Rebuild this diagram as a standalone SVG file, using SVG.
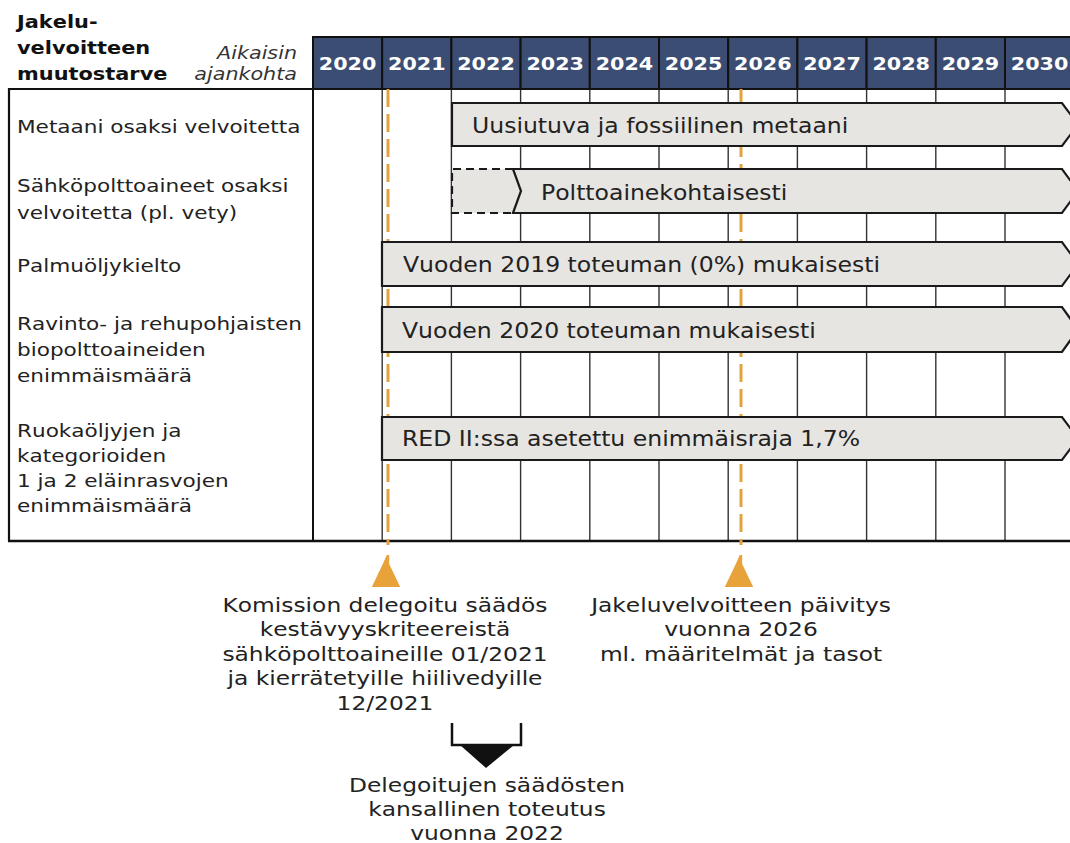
<svg xmlns="http://www.w3.org/2000/svg" width="1070" height="843" viewBox="0 0 1070 843">
<style>
  text { font-family: "DejaVu Sans", Verdana, sans-serif; fill: #222; font-kerning: none; }
  .title { font-weight: bold; font-size: 18.5px; fill: #111; }
  .ital { font-style: italic; font-size: 18px; fill: #333; text-anchor: end; }
  .yr { font-weight: bold; font-size: 18.3px; fill: #fff; text-anchor: middle; }
  .lbl { font-size: 18.3px; }
  .bar-t { font-size: 20.3px; }
  .note { font-size: 20.3px; text-anchor: middle; }
  .hdr { fill: #3C4D73; stroke: #111; stroke-width: 2; }
  .grid { stroke: #333; stroke-width: 1.4; }
  .bar { fill: #E7E5E1; stroke: #1a1a1a; stroke-width: 2.2; stroke-linejoin: miter; }
  .dash { fill: none; stroke: #1a1a1a; stroke-width: 2.2; stroke-dasharray: 8 5; }
  .orange { stroke: #E3A33C; stroke-width: 3; stroke-dasharray: 18 7; fill: none; }
  .omark { fill: #E8A23A; }
</style>

<!-- Title & header labels -->
<g id="title">
  <text class="title" transform="translate(17,28) scale(1.13,1)"><tspan x="0" y="0">Jakelu-</tspan><tspan x="0" y="26">velvoitteen</tspan><tspan x="0" y="52">muutostarve</tspan></text>
  <text class="ital" transform="translate(297,59) scale(1.15,1)">Aikaisin</text>
  <text class="ital" transform="translate(297,80) scale(1.15,1)">ajankohta</text>
</g>

<!-- Year header -->
<g id="years">
  <rect class="hdr" x="313" y="37" width="69.2" height="52"/>
  <rect class="hdr" x="382.2" y="37" width="69.2" height="52"/>
  <rect class="hdr" x="451.4" y="37" width="69.2" height="52"/>
  <rect class="hdr" x="520.6" y="37" width="69.2" height="52"/>
  <rect class="hdr" x="589.8" y="37" width="69.2" height="52"/>
  <rect class="hdr" x="659" y="37" width="69.2" height="52"/>
  <rect class="hdr" x="728.2" y="37" width="69.2" height="52"/>
  <rect class="hdr" x="797.4" y="37" width="69.2" height="52"/>
  <rect class="hdr" x="866.6" y="37" width="69.2" height="52"/>
  <rect class="hdr" x="935.8" y="37" width="69.2" height="52"/>
  <rect class="hdr" x="1005" y="37" width="69.2" height="52"/>
  <text class="yr" transform="translate(347.6,70) scale(1.13,1)">2020</text>
  <text class="yr" transform="translate(416.8,70) scale(1.13,1)">2021</text>
  <text class="yr" transform="translate(486,70) scale(1.13,1)">2022</text>
  <text class="yr" transform="translate(555.2,70) scale(1.13,1)">2023</text>
  <text class="yr" transform="translate(624.4,70) scale(1.13,1)">2024</text>
  <text class="yr" transform="translate(693.6,70) scale(1.13,1)">2025</text>
  <text class="yr" transform="translate(762.8,70) scale(1.13,1)">2026</text>
  <text class="yr" transform="translate(832,70) scale(1.13,1)">2027</text>
  <text class="yr" transform="translate(901.2,70) scale(1.13,1)">2028</text>
  <text class="yr" transform="translate(970.4,70) scale(1.13,1)">2029</text>
  <text class="yr" transform="translate(1039.6,70) scale(1.13,1)">2030</text>
</g>

<!-- Table frame and grid -->
<g id="grid">
  <line class="grid" x1="382.2" y1="89" x2="382.2" y2="541"/>
  <line class="grid" x1="451.4" y1="89" x2="451.4" y2="541"/>
  <line class="grid" x1="520.6" y1="89" x2="520.6" y2="541"/>
  <line class="grid" x1="589.8" y1="89" x2="589.8" y2="541"/>
  <line class="grid" x1="659" y1="89" x2="659" y2="541"/>
  <line class="grid" x1="728.2" y1="89" x2="728.2" y2="541"/>
  <line class="grid" x1="797.4" y1="89" x2="797.4" y2="541"/>
  <line class="grid" x1="866.6" y1="89" x2="866.6" y2="541"/>
  <line class="grid" x1="935.8" y1="89" x2="935.8" y2="541"/>
  <line class="grid" x1="1005" y1="89" x2="1005" y2="541"/>
  <path d="M9,541 V89 H1070" fill="none" stroke="#111" stroke-width="2.2"/>
  <line x1="313" y1="89" x2="313" y2="541" stroke="#111" stroke-width="2"/>
  <line x1="8" y1="541" x2="1070" y2="541" stroke="#111" stroke-width="2.5"/>
</g>

<!-- Row labels -->
<g id="labels">
  <text class="lbl" transform="translate(17,133) scale(1.18,1)">Metaani osaksi velvoitetta</text>
  <text class="lbl" transform="translate(17,192) scale(1.18,1)"><tspan x="0" y="0">Sähköpolttoaineet osaksi</tspan><tspan x="0" y="27">velvoitetta (pl. vety)</tspan></text>
  <text class="lbl" transform="translate(17,272) scale(1.18,1)">Palmuöljykielto</text>
  <text class="lbl" transform="translate(17,330) scale(1.18,1)"><tspan x="0" y="0">Ravinto- ja rehupohjaisten</tspan><tspan x="0" y="26">biopolttoaineiden</tspan><tspan x="0" y="52">enimmäismäärä</tspan></text>
  <text class="lbl" transform="translate(17,437) scale(1.18,1)"><tspan x="0" y="0">Ruokaöljyjen ja</tspan><tspan x="0" y="25">kategorioiden</tspan><tspan x="0" y="50">1 ja 2 eläinrasvojen</tspan><tspan x="0" y="75">enimmäismäärä</tspan></text>
</g>

<!-- Milestone connectors -->
<g id="connectors">
  <line class="orange" x1="388" y1="89" x2="388" y2="545"/>
  <line class="orange" x1="741" y1="89" x2="741" y2="545"/>
  <path class="omark" d="M386.8,555 h2.4 v9 l11,23 h-28.4 l11,-23 z"/>
  <path class="omark" d="M739.8,555 h2.4 v9 l11,23 h-28.4 l11,-23 z"/>
  <path d="M452,723 V745 H521 V723" fill="none" stroke="#111" stroke-width="2.5"/>
  <path d="M460,745 H514 L486,768 Z" fill="#111"/>
</g>

<!-- Bars -->
<g id="bar1">
  <path class="bar" d="M452,103 H1062 L1078,124.5 L1062,146 H452 Z"/>
  <text class="bar-t" transform="translate(472,133) scale(1.16,1)">Uusiutuva ja fossiilinen metaani</text>
</g>
<g id="bar2">
  <path d="M452,169 H514 L522,191 L514,213 H452 Z" fill="#E7E5E1"/>
  <path class="dash" d="M513,169 H452 V213 H513"/>
  <path class="bar" d="M513,169 H1062 L1078,191 L1062,213 H513 L521,191 Z"/>
  <text class="bar-t" transform="translate(541,200) scale(1.16,1)">Polttoainekohtaisesti</text>
</g>
<g id="bar3">
  <path class="bar" d="M382,242 H1062 L1078,264 L1062,286 H382 Z"/>
  <text class="bar-t" transform="translate(403,272) scale(1.16,1)">Vuoden 2019 toteuman (0%) mukaisesti</text>
</g>
<g id="bar4">
  <path class="bar" d="M382,307 H1062 L1078,329.5 L1062,352 H382 Z"/>
  <text class="bar-t" transform="translate(402,338) scale(1.16,1)">Vuoden 2020 toteuman mukaisesti</text>
</g>
<g id="bar5">
  <path class="bar" d="M382,417 H1062 L1078,438.5 L1062,460 H382 Z"/>
  <text class="bar-t" transform="translate(402,446) scale(1.16,1)">RED II:ssa asetettu enimmäisraja 1,7%</text>
</g>

<!-- Notes -->
<g id="note1">
  <text class="note" transform="translate(385,612) scale(1.15,1)"><tspan x="0" y="0">Komission delegoitu säädös</tspan><tspan x="0" y="24.5">kestävyyskriteereistä</tspan><tspan x="0" y="49">sähköpolttoaineille 01/2021</tspan><tspan x="0" y="73.5">ja kierrätetyille hiilivedyille</tspan><tspan x="0" y="98">12/2021</tspan></text>
</g>
<g id="note2">
  <text class="note" transform="translate(741,612) scale(1.15,1)"><tspan x="0" y="0">Jakeluvelvoitteen päivitys</tspan><tspan x="0" y="24.5">vuonna 2026</tspan><tspan x="0" y="49">ml. määritelmät ja tasot</tspan></text>
</g>
<g id="note3">
  <text class="note" transform="translate(487,792) scale(1.15,1)"><tspan x="0" y="0">Delegoitujen säädösten</tspan><tspan x="0" y="24.5">kansallinen toteutus</tspan><tspan x="0" y="48.5">vuonna 2022</tspan></text>
</g>
</svg>
